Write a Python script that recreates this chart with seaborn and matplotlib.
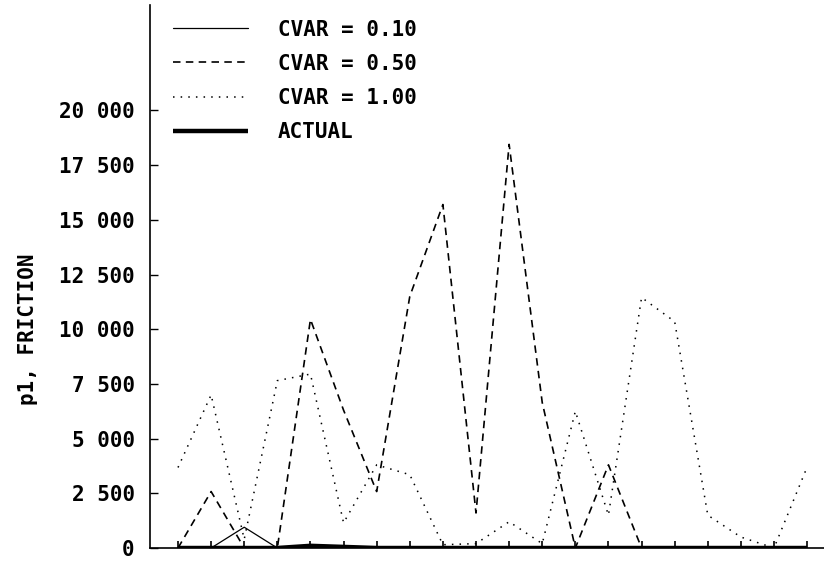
import matplotlib
matplotlib.use("Agg")
import matplotlib.pyplot as plt
from matplotlib.ticker import FuncFormatter
import seaborn as sns
import pandas as pd

# data
periods = list(range(1, 21))
cvar_010 = [0, 0, 950, 0, 0, 0, 0, 0, 0, 0, 0, 0, 0, 0, 0, 0, 0, 0, 0, 0]
cvar_050 = [0, 2580, 0, 0, 10450, 6300, 2580, 11500, 15700, 1600,
            18450, 6650, 0, 3800, 0, 0, 0, 0, 0, 0]
cvar_100 = [3680, 7000, 400, 7650, 7950, 1150, 3800, 3350, 150, 200,
            1200, 200, 6250, 1500, 11450, 10350, 1500, 500, 0, 3700]
actual = [0, 0, 0, 0, 100, 50, 0, 0, 0, 0, 0, 0, 0, 0, 0, 0, 0, 0, 0, 0]
y_ticks = [0, 2500, 5000, 7500, 10000, 12500, 15000, 17500, 20000]

series = [
    ("CVAR = 0.10", cvar_010, dict(lw=0.9, linestyle="-")),
    ("CVAR = 0.50", cvar_050, dict(lw=1.2, linestyle=(0, (4.5, 3.2)))),
    ("CVAR = 1.00", cvar_100, dict(lw=1.1, linestyle=(0, (1, 4)))),
    ("ACTUAL", actual, dict(lw=3.2, linestyle="-", solid_capstyle="butt")),
]

sns.set_style("ticks")
plt.rcParams["font.family"] = ["DejaVu Sans Mono"]
plt.rcParams["font.weight"] = "bold"
plt.rcParams["text.color"] = "black"
plt.rcParams["ytick.labelcolor"] = "black"

fig = plt.figure(figsize=(8.24, 5.64), dpi=100)
ax = fig.add_axes((150 / 824, 16 / 564, 674 / 824, 543 / 564))

for name, vals, style in series:
    df = pd.DataFrame({"period": periods, "value": vals})
    sns.lineplot(data=df, x="period", y="value", ax=ax, color="black",
                 label=name, **style)

ax.set_xlim(0.154, 20.51)
ax.set_ylim(0, 24820)
ax.set_xticks(periods)
ax.set_xticklabels([])
ax.set_yticks(y_ticks)
ax.yaxis.set_major_formatter(FuncFormatter(lambda v, p: f"{int(v):,}".replace(",", " ")))
ax.tick_params(axis="x", direction="in", length=5, width=1.2, color="black")
ax.tick_params(axis="y", direction="in", length=6, width=1.0, color="black",
               pad=11, labelsize=15, labelcolor="black")
ax.set_xlabel("")
ax.set_ylabel("")
sns.despine(ax=ax)
for s in ("left", "bottom"):
    ax.spines[s].set_linewidth(1.2)
    ax.spines[s].set_color("black")

fig.text(28 / 824, 1 - 329 / 564, "p1, FRICTION", rotation=90,
         ha="center", va="center", fontsize=15, fontweight="bold")

ax.legend(loc="upper left", bbox_to_anchor=(0.012, 1.0), frameon=False,
          fontsize=15, handlelength=3.6, handletextpad=1.45,
          labelspacing=0.68, borderaxespad=0.5, borderpad=0.2,
          labelcolor="black")

fig.savefig("out.png", dpi=100)
